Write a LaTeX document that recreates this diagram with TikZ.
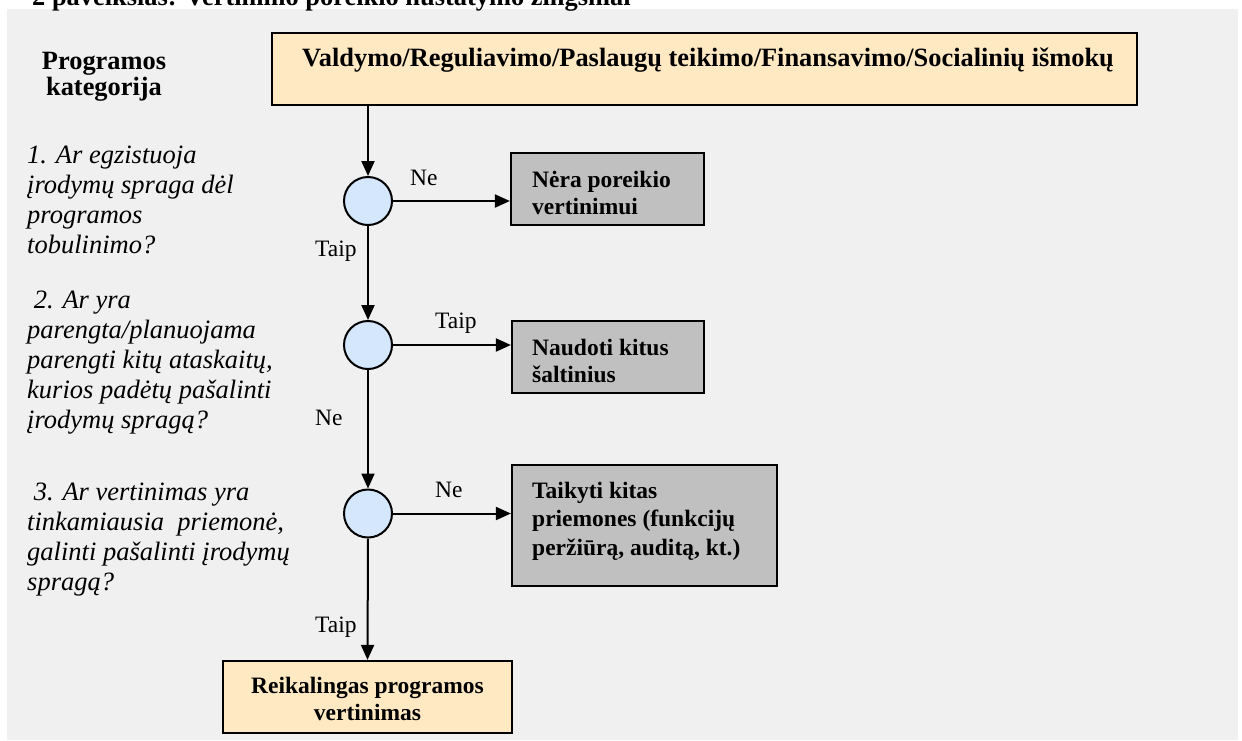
\documentclass[tikz,border=0pt]{standalone}
\usepackage{fontspec}
\setmainfont{Liberation Serif}
\usetikzlibrary{arrows.meta}

\definecolor{panelgrey}{HTML}{F0F0F0}
\definecolor{peach}{HTML}{FFE9C3}
\definecolor{stopgrey}{HTML}{C0C0C0}
\definecolor{decisionblue}{HTML}{D5E7FD}

% stacked lines whose baseline is the first line
\newcommand\linesL[1]{\begin{tabular}[t]{@{}l@{}}#1\end{tabular}}
\newcommand\linesC[1]{\begin{tabular}[t]{@{}c@{}}#1\end{tabular}}

\begin{document}
\begin{tikzpicture}[x=1pt,y=-1pt,
  boxframe/.style={draw=black, line width=2.2pt, inner sep=0pt},
  catbox/.style={boxframe, fill=peach},
  stopbox/.style={boxframe, fill=stopgrey},
  decision/.style={circle, draw=black, line width=2pt, fill=decisionblue,
    minimum size=48pt, inner sep=0pt},
  flow/.style={line width=2pt, -{Triangle[length=15pt,width=13pt]}},
  boxtext/.style={inner sep=0pt, font=\fontsize{23.5}{27}\selectfont\bfseries},
  bigtext/.style={inner sep=0pt, font=\fontsize{26.4}{26}\selectfont\bfseries},
  question/.style={inner sep=0pt, anchor=base west, font=\fontsize{26.5}{30}\selectfont\itshape},
  answer/.style={inner sep=0pt, anchor=base west, font=\fontsize{23.5}{27}\selectfont},
]
\useasboundingbox (0,0) rectangle (1242,740);
\fill[panelgrey] (7,9) rectangle (1238,740);

% caption (its upper part lies above the page)
\node[bigtext, anchor=base west] (caption) at (32,5)
  {2 paveikslas: Vertinimo poreikio nustatymo žingsniai};

% left column
\node[bigtext, anchor=base] (hdr) at (104,69) {\linesC{Programos\\kategorija}};
\node[question] (q1) at (27,163)
  {\linesL{1. Ar egzistuoja\\įrodymų spraga dėl\\programos\\tobulinimo?}};
\node[question] (q2) at (27,308)
  {\linesL{\ 2. Ar yra\\parengta/planuojama\\parengti kitų ataskaitų,\\kurios padėtų pašalinti\\įrodymų spragą?}};
\node[question] (q3) at (27,500)
  {\linesL{\ 3. Ar vertinimas yra\\tinkamiausia\ \ priemonė,\\galinti pašalinti įrodymų\\spragą?}};

% boxes
\node[catbox, minimum width=865pt, minimum height=72pt] (cat) at (704.5,69) {};
\node[bigtext, anchor=base west] (catlabel) at (302,66)
  {Valdymo/Reguliavimo/Paslaugų teikimo/Finansavimo/Socialinių išmokų};

\node[stopbox, minimum width=193pt, minimum height=72pt] (b1) at (607.5,189) {};
\node[boxtext, anchor=base west] (b1label) at (532,187) {\linesL{Nėra poreikio\\vertinimui}};

\node[stopbox, minimum width=192pt, minimum height=72pt] (b2) at (608,357) {};
\node[boxtext, anchor=base west] (b2label) at (532,355) {\linesL{Naudoti kitus\\šaltinius}};

\node[stopbox, minimum width=265pt, minimum height=121pt] (b3) at (644.5,525.5) {};
\node[boxtext, anchor=base west, font=\fontsize{23.5}{28.5}\selectfont\bfseries] (b3label) at (532,498)
  {\linesL{Taikyti kitas\\priemones (funkcijų\\peržiūrą, auditą, kt.)}};

\node[catbox, minimum width=289pt, minimum height=72pt] (res) at (367.5,697) {};
\node[boxtext, anchor=base] (reslabel) at (367.5,693) {\linesC{Reikalingas programos\\vertinimas}};

% decisions
\node[decision] (c1) at (368,201) {};
\node[decision] (c2) at (368,345) {};
\node[decision] (c3) at (368,513.5) {};

% connectors
\draw[flow] (c1 |- cat.south) -- (c1.north);
\draw[flow] (c1.east) -- (b1.west |- c1);
\draw[flow] (c1.south) -- (c2.north);
\draw[flow] (c2.east) -- (b2.west |- c2);
\draw[flow] (c2.south) -- (c3.north);
\draw[flow] (c3.east) -- (b3.west |- c3);
\draw[flow] (c3.south) -- (res.north);

% answers
\node[answer] (a1r) at (410,185) {Ne};
\node[answer] (a1d) at (315,256) {Taip};
\node[answer] (a2r) at (435,328) {Taip};
\node[answer] (a2d) at (315,425) {Ne};
\node[answer] (a3r) at (435,497) {Ne};
\node[answer] (a3d) at (315,632) {Taip};
\end{tikzpicture}
\end{document}
